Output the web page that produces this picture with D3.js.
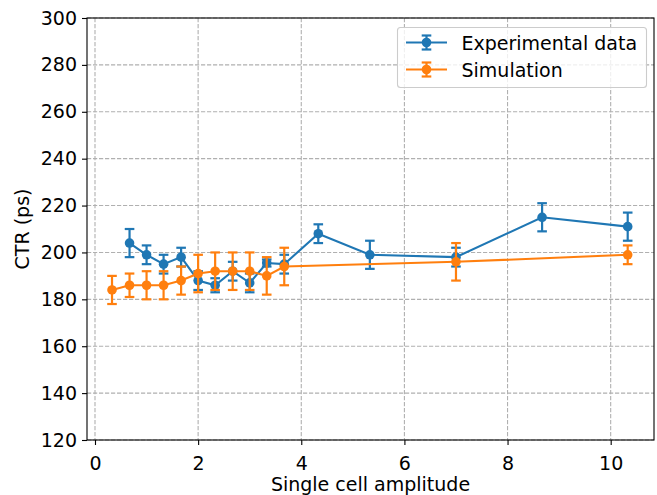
<!DOCTYPE html>
<html><head><meta charset="utf-8">
<script src="https://cdn.jsdelivr.net/npm/d3@7"></script>
<style>body{margin:0;background:#fff}svg{display:block;font-family:"DejaVu Sans",sans-serif}</style>
</head><body>
<svg id="c" width="657" height="495"></svg>
<script>
const expX   = [0.67, 1.0, 1.33, 1.67, 2.0, 2.33, 2.67, 3.0, 3.33, 3.67, 4.33, 5.33, 7.0, 8.67, 10.33];
const expY   = [204, 199, 195, 198, 188, 186, 192, 187, 195.5, 195, 208, 199, 198, 215, 211];
const expErr = [6, 4, 4, 4, 4, 3, 4, 4, 1.5, 4, 4, 6, 4, 6, 6];
const simX   = [0.33, 0.67, 1.0, 1.33, 1.67, 2.0, 2.33, 2.67, 3.0, 3.33, 3.67, 7.0, 10.33];
const simY   = [184, 186, 186, 186, 188, 191, 192, 192, 192, 190, 194, 196, 199];
const simErr = [6, 5, 6, 6, 6, 8, 8, 8, 8, 8, 8, 8, 4];
const xTicks = [0, 2, 4, 6, 8, 10];
const yTicks = [120, 140, 160, 180, 200, 220, 240, 260, 280, 300];
const seriesNames = ["Experimental data", "Simulation"];
const colors = ["#1f77b4", "#ff7f0e"];

const FS = "19px";
const L = 87, R = 654, T = 18, B = 440;
const svg = d3.select("#c");
const x = d3.scaleLinear().domain([-0.155, 10.84]).range([L, R]);
const y = d3.scaleLinear().domain([120, 300]).range([B, T]);

// grid
const g = svg.append("g");
g.selectAll(".vg").data(xTicks).join("line")
  .attr("x1", d => x(d)).attr("x2", d => x(d)).attr("y1", T).attr("y2", B)
  .attr("stroke", "#b0b0b0").attr("stroke-width", 1.1).attr("stroke-dasharray", "4.2,1.8");
g.selectAll(".hg").data(yTicks).join("line")
  .attr("y1", d => y(d)).attr("y2", d => y(d)).attr("x1", L).attr("x2", R)
  .attr("stroke", "#b0b0b0").attr("stroke-width", 1.1).attr("stroke-dasharray", "4.2,1.8");

function series(xs, ys, es, color) {
  const s = svg.append("g");
  const pts = xs.map((v, i) => ({x: v, y: ys[i], e: es[i]}));
  s.append("path").datum(pts)
    .attr("d", d3.line().x(d => x(d.x)).y(d => y(d.y)))
    .attr("fill", "none").attr("stroke", color).attr("stroke-width", 2.1);
  s.selectAll(".eb").data(pts).join("line")
    .attr("x1", d => x(d.x)).attr("x2", d => x(d.x))
    .attr("y1", d => y(d.y - d.e)).attr("y2", d => y(d.y + d.e))
    .attr("stroke", color).attr("stroke-width", 2.2);
  [1, -1].forEach(sg => {
    s.selectAll(".cap" + sg).data(pts).join("line")
      .attr("x1", d => x(d.x) - 4.8).attr("x2", d => x(d.x) + 4.8)
      .attr("y1", d => y(d.y + sg * d.e)).attr("y2", d => y(d.y + sg * d.e))
      .attr("stroke", color).attr("stroke-width", 2.2);
  });
  s.selectAll("circle").data(pts).join("circle")
    .attr("cx", d => x(d.x)).attr("cy", d => y(d.y)).attr("r", 4.8)
    .attr("fill", color);
}
series(expX, expY, expErr, colors[0]);
series(simX, simY, simErr, colors[1]);

// axes
const xa = svg.append("g").attr("transform", `translate(0,${B})`)
  .call(d3.axisBottom(x).tickValues(xTicks).tickFormat(d3.format("d")).tickSizeOuter(0).tickSize(5).tickPadding(4));
const ya = svg.append("g").attr("transform", `translate(${L},0)`)
  .call(d3.axisLeft(y).tickValues(yTicks).tickSizeOuter(0).tickSize(5).tickPadding(5));
[xa, ya].forEach(a => {
  a.select(".domain").remove();
  a.selectAll(".tick line").attr("stroke", "#000").attr("stroke-width", 1.1);
  a.selectAll(".tick text").attr("font-size", FS).attr("fill", "#000").attr("font-family", "DejaVu Sans");
});
xa.selectAll(".tick text").attr("y", 0).attr("dy", null).attr("transform", "translate(0,30)");
svg.append("rect").attr("x", L).attr("y", T).attr("width", R - L).attr("height", B - T)
  .attr("fill", "none").attr("stroke", "#000").attr("stroke-width", 1.1);

svg.append("text").attr("x", (L + R) / 2).attr("y", 491).attr("text-anchor", "middle")
  .attr("font-size", FS).text("Single cell amplitude");
svg.append("text").attr("transform", `translate(29,${(T + B) / 2}) rotate(-90)`).attr("text-anchor", "middle")
  .attr("font-size", FS).text("CTR (ps)");

// legend
const lg = svg.append("g");
lg.append("rect").attr("x", 397.5).attr("y", 27.5).attr("width", 249).attr("height", 60).attr("rx", 3)
  .attr("fill", "#fff").attr("fill-opacity", 0.8).attr("stroke", "#cccccc").attr("stroke-width", 1.1);
seriesNames.forEach((name, i) => {
  const cy = 42.5 + i * 27, c = colors[i];
  lg.append("line").attr("x1", 406).attr("x2", 447).attr("y1", cy).attr("y2", cy).attr("stroke", c).attr("stroke-width", 2.1);
  lg.append("line").attr("x1", 426.5).attr("x2", 426.5).attr("y1", cy - 7).attr("y2", cy + 7).attr("stroke", c).attr("stroke-width", 2.2);
  [-7, 7].forEach(o => lg.append("line").attr("x1", 421.7).attr("x2", 431.3).attr("y1", cy + o).attr("y2", cy + o).attr("stroke", c).attr("stroke-width", 2.2));
  lg.append("circle").attr("cx", 426.5).attr("cy", cy).attr("r", 4.8).attr("fill", c);
  lg.append("text").attr("x", 461.5).attr("y", cy + 7).attr("font-size", FS).text(name);
});
</script>
</body></html>
